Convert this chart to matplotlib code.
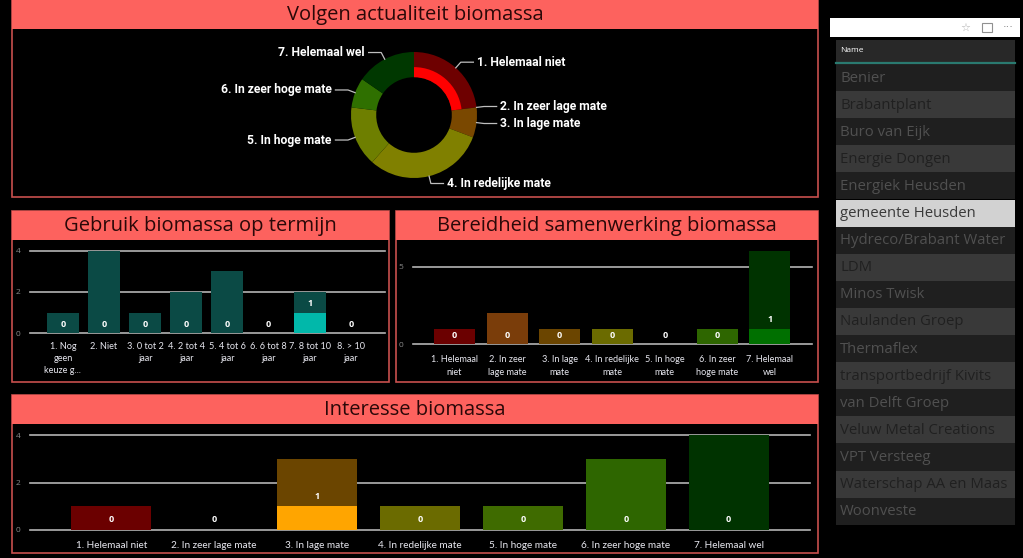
import matplotlib
matplotlib.use("Agg")
import matplotlib.pyplot as plt
from matplotlib.patches import Rectangle
import math

W, H = 1023, 558
DPI = 100

# ---------------- data ----------------
volgen_labels = ["1. Helemaal niet", "2. In zeer lage mate", "3. In lage mate",
                 "4. In redelijke mate", "5. In hoge mate", "6. In zeer hoge mate",
                 "7. Helemaal wel"]
volgen_totals = [3, 0, 1, 4, 2, 1, 2]
volgen_highlight = [1, 0, 0, 0, 0, 0, 0]

gebruik_labels = ["1. Nog\ngeen\nkeuze g...", "2. Niet", "3. 0 tot 2\njaar", "4. 2 tot 4\njaar",
                  "5. 4 tot 6\njaar", "6. 6 tot 8\njaar", "7. 8 tot 10\njaar", "8. > 10\njaar"]
gebruik_totals = [1, 4, 1, 2, 3, 0, 2, 0]
gebruik_highlight = [0, 0, 0, 0, 0, 0, 1, 0]

bereid_labels = ["1. Helemaal\nniet", "2. In zeer\nlage mate", "3. In lage\nmate",
                 "4. In redelijke\nmate", "5. In hoge\nmate", "6. In zeer\nhoge mate",
                 "7. Helemaal\nwel"]
bereid_totals = [1, 2, 1, 1, 0, 1, 6]
bereid_highlight = [0, 0, 0, 0, 0, 0, 1]

interesse_labels = ["1. Helemaal niet", "2. In zeer lage mate", "3. In lage mate",
                    "4. In redelijke mate", "5. In hoge mate", "6. In zeer hoge mate",
                    "7. Helemaal wel"]
interesse_totals = [1, 0, 3, 1, 1, 3, 4]
interesse_highlight = [0, 0, 1, 0, 0, 0, 0]

slicer_names = ["Benier", "Brabantplant", "Buro van Eijk", "Energie Dongen", "Energiek Heusden",
                "gemeente Heusden", "Hydreco/Brabant Water", "LDM", "Minos Twisk",
                "Naulanden Groep", "Thermaflex", "transportbedrijf Kivits", "van Delft Groep",
                "Veluw Metal Creations", "VPT Versteeg", "Waterschap AA en Maas", "Woonveste"]
slicer_selected = "gemeente Heusden"

# ---------------- styles ----------------
donut_colors = ["#6e0000", "#7a3d0a", "#7a4800", "#808000", "#6e7f00", "#2f7000", "#003800"]
donut_hl_colors = ["#ff0000", "#ff7f27", "#ffa500", "#ffff00", "#c0ff00", "#5ad400", "#00a000"]
scale_colors = ["#6b0000", "#7a3d0a", "#6b4500", "#6b6b00", "#3f6b00", "#2e6600", "#003300"]
scale_hl_colors = ["#ff0000", "#ff7f27", "#ffa500", "#e0e000", "#80c000", "#50b000", "#007000"]
teal_dark = "#0b4a45"
teal_hl = "#01b8aa"

TITLE_BG = "#fd625e"
BORDER = "#c8504e"
TITLE_FC = "#2a0808"
FONT = ["Open Sans", "DejaVu Sans"]
NARROW = ["Lato", "DejaVu Sans"]
plt.rcParams["font.family"] = FONT

fig = plt.figure(figsize=(W / DPI, H / DPI), dpi=DPI, facecolor="black")

# background axes in pixel coordinates
bg = fig.add_axes([0, 0, 1, 1])
bg.set_xlim(0, W)
bg.set_ylim(H, 0)
bg.axis("off")
bg.set_facecolor("black")


def panel(x0, y0, x1, y1, title, tb=29):
    bg.add_patch(Rectangle((x0, y0), x1 - x0, y1 - y0, fc="black", ec=BORDER, lw=1.2))
    bg.add_patch(Rectangle((x0, y0), x1 - x0, tb, fc=TITLE_BG, ec="none"))
    bg.text((x0 + x1) / 2, y0 + tb / 2 + 0.5, title, ha="center", va="center",
            fontsize=14.5, color=TITLE_FC)


panel(12, 0, 818, 197, "Volgen actualiteit biomassa", tb=29)
panel(12, 211, 389, 382, "Gebruik biomassa op termijn")
panel(396, 211, 818, 382, "Bereidheid samenwerking biomassa")
panel(12, 395, 818, 553, "Interesse biomassa")


def px_axes(x0, y0, x1, y1):
    return fig.add_axes([x0 / W, 1 - y1 / H, (x1 - x0) / W, (y1 - y0) / H])


# ---------------- donut ----------------
cx, cy, R = 414, 115, 63
dax = px_axes(13, 30, 817, 196)
dax.axis("off")
dax.pie(volgen_totals, colors=donut_colors, startangle=90, counterclock=False, radius=1.0,
        wedgeprops=dict(width=0.4, linewidth=0))
hl_cols = [donut_hl_colors[i] if volgen_highlight[i] > 0 else (0, 0, 0, 0)
           for i in range(len(volgen_totals))]
dax.pie(volgen_totals, colors=hl_cols, startangle=90, counterclock=False, radius=0.76,
        wedgeprops=dict(width=0.16, linewidth=0))
dax.set_xlim((13 - cx) / R, (817 - cx) / R)
dax.set_ylim(-(196 - cy) / R, (cy - 30) / R)
dax.set_aspect("auto")

total = sum(volgen_totals)
cum = 0
for lab, v in zip(volgen_labels, volgen_totals):
    mid = (cum + v / 2) / total * 2 * math.pi
    cum += v
    sx, sy = math.sin(mid), math.cos(mid)
    p = (1.0 * sx, 1.0 * sy)
    e = (1.12 * sx, 1.12 * sy)
    side = 1 if sx >= 0 else -1
    t = (e[0] + side * 0.2, e[1])
    dax.plot([p[0], e[0], t[0]], [p[1], e[1], t[1]], color="#bfbfbf", lw=0.9, clip_on=False)
    dax.text(t[0] + side * 0.06, t[1], lab, ha="left" if side > 0 else "right", va="center",
             fontsize=8.7, fontweight="bold", color="white", family=["Roboto", "DejaVu Sans"])


# ---------------- bar charts ----------------
def bar_chart(ax_px, cats, totals, highlight, colors, hl_colors, ticks, ylim_top, xlim,
              lab_off=9, tick_fs=6.8, xpad=6):
    ax = px_axes(*ax_px)
    ax.set_facecolor("none")
    x = list(range(len(cats)))
    ax.bar(x, totals, width=0.78, color=colors, zorder=2)
    ax.bar(x, highlight, width=0.78, color=hl_colors, zorder=3)
    for i, h in enumerate(highlight):
        ax.annotate(str(h), (i, h), xytext=(0, lab_off * 0.72), textcoords="offset points",
                    ha="center", va="center", fontsize=6.5, fontweight="bold", color="white",
                    zorder=5)
    ax.set_xlim(*xlim)
    ax.set_ylim(0, ylim_top)
    ax.set_yticks(ticks)
    ax.set_yticklabels([str(t) for t in ticks])
    ax.set_xticks(x)
    ax.set_xticklabels(cats, family=NARROW)
    for s in ax.spines.values():
        s.set_visible(False)
    ax.tick_params(axis="y", length=0, colors="#8a8a8a", labelsize=6, pad=7)
    ax.tick_params(axis="x", length=0, colors="#e8e8f0", labelsize=tick_fs, pad=xpad)
    for lbl in ax.get_xticklabels():
        lbl.set_linespacing(1.45)
    for t in ticks:
        ax.axhline(t, color="#b4b4b4", lw=1.2, zorder=1, clip_on=False)
    return ax


bar_chart((30, 245, 385, 333.3), gebruik_labels, gebruik_totals, gebruik_highlight,
          [teal_dark] * 8, [teal_hl] * 8, [0, 2, 4], (333.3 - 245) / 20.7, (-0.80, 7.83),
          tick_fs=6.6, xpad=6)

bar_chart((413, 250, 812, 344.3), bereid_labels, bereid_totals, bereid_highlight,
          scale_colors, scale_hl_colors, [0, 5], (344.3 - 250) / 15.5, (-0.79, 6.8),
          tick_fs=6.6, xpad=8)

bar_chart((30, 430, 810, 530), interesse_labels, interesse_totals, interesse_highlight,
          scale_colors, scale_hl_colors, [0, 2, 4], (530 - 430) / 23.75, (-0.79, 6.79),
          lab_off=10, tick_fs=7.2, xpad=8)

# ---------------- slicer ----------------
bg.add_patch(Rectangle((830, 18), 190, 19, fc="white", ec="none"))
bg.text(965, 28, "\u2606", ha="center", va="center", fontsize=8, color="#b0b0b0",
        family=["DejaVu Sans"])
bg.add_patch(Rectangle((982, 23), 10, 9, fc="none", ec="#909090", lw=0.8))
bg.text(1008, 27, "\u00b7\u00b7\u00b7", ha="center", va="center", fontsize=8, color="#808080",
        family=["DejaVu Sans"])

bg.add_patch(Rectangle((836, 40), 179, 22, fc="#282828", ec="none"))
bg.text(840, 51, "Name", ha="left", va="center", fontsize=6, color="white")
bg.plot([836, 1015], [62.5, 62.5], color="#2a7a70", lw=1.6)

row_h = 27.1
y0 = 64
for i, name in enumerate(slicer_names):
    ry = y0 + i * row_h
    if name == slicer_selected:
        fc, tc = "#d2d2d2", "#3a3a3a"
    elif i % 2 == 0:
        fc, tc = "#1f1f1f", "#505050"
    else:
        fc, tc = "#393939", "#202020"
    bg.add_patch(Rectangle((836, ry), 179, row_h, fc=fc, ec="none"))
    bg.text(840, ry + row_h / 2 + 0.5, name, ha="left", va="center", fontsize=10.7, color=tc)

fig.savefig("out.png", dpi=DPI, facecolor="black")
